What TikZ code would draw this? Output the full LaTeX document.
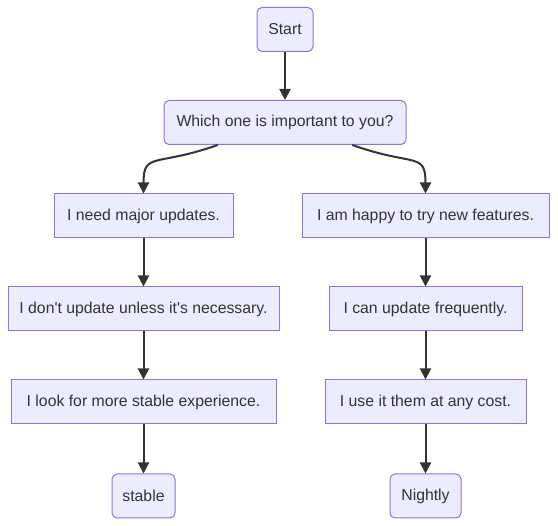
\documentclass[tikz,border=0pt]{standalone}
\usepackage{fontspec}
\setmainfont{Liberation Sans}
\usepackage{tikz}
\usetikzlibrary{positioning,arrows.meta,calc}
\definecolor{boxfill}{HTML}{ECECFF}
\definecolor{boxline}{HTML}{9370DB}
\definecolor{ink}{HTML}{333333}
\newcommand{\sq}{\textquotesingle}
\begin{document}
\begin{tikzpicture}[x=1pt, y=-1pt, font=\fontsize{15.8}{19}\selectfont, text=ink,
    box/.style={draw=boxline, fill=boxfill, line width=1pt, minimum height=44pt, inner sep=0pt},
    roundbox/.style={box, rounded corners=5pt},
    arr/.style={draw=ink, line width=2pt, -{Triangle[length=11pt,width=11pt]}}]
    \useasboundingbox (0,0) rectangle (558,526);
    % top
    \node[roundbox, minimum width=56pt] (start) at (285,29.5) {Start};
    \node[roundbox, minimum width=242pt] (which) at (285,122.5) {Which one is important to you?};
    % left branch
    \node[box, minimum width=179pt] (major) at (143.5,216) {I need major updates.};
    \node[box, minimum width=271pt] (dont) at (143.5,309) {I don\sq t update unless it\sq s necessary.};
    \node[box, minimum width=265pt] (look) at (143.5,402) {I look for more stable experience.};
    \node[roundbox, minimum width=63pt] (stable) at (143.5,496) {stable};
    % right branch
    \node[box, minimum width=247pt] (happy) at (425.5,216) {I am happy to try new features.};
    \node[box, minimum width=193pt] (can) at (425.5,309) {I can update frequently.};
    \node[box, minimum width=201pt] (use) at (425.5,402) {I use it them at any cost.};
    \node[roundbox, minimum width=71pt] (nightly) at (425.5,496) {Nightly};

    \coordinate (wl) at ($(which.south west)!0.223!(which.south east)$);
    \coordinate (wr) at ($(which.south west)!0.777!(which.south east)$);

    \draw[arr] (wl) .. controls +(-62,22) and +(0,-42) .. (major.north);
    \draw[arr] (wr) .. controls +(62,22) and +(0,-42) .. (happy.north);
    \draw[arr] (start) -- (which);
    \draw[arr] (major) -- (dont);
    \draw[arr] (dont) -- (look);
    \draw[arr] (look) -- (stable);
    \draw[arr] (happy) -- (can);
    \draw[arr] (can) -- (use);
    \draw[arr] (use) -- (nightly);
\end{tikzpicture}
\end{document}
